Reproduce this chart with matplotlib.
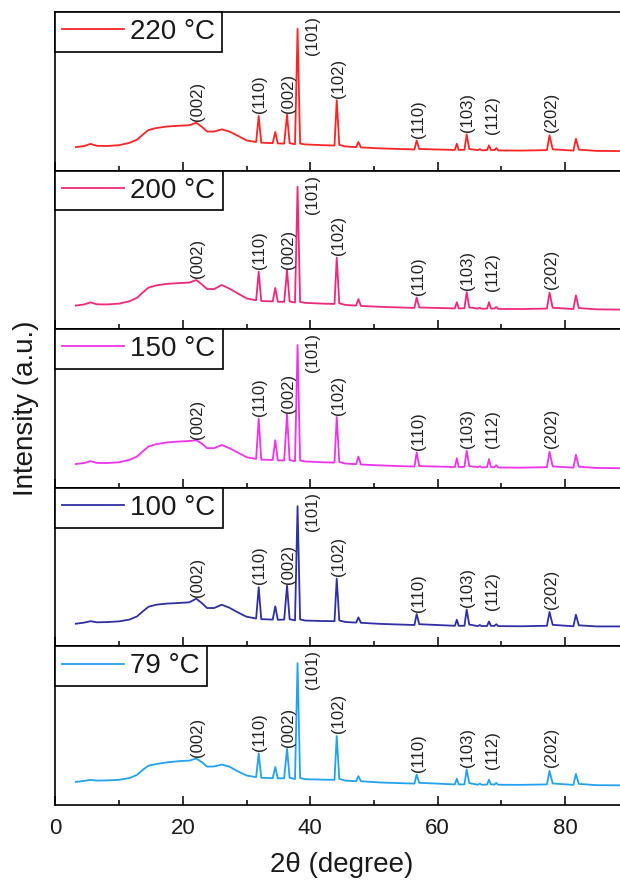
import numpy as np
import matplotlib
matplotlib.use('Agg')
import matplotlib.pyplot as plt
from matplotlib.ticker import MultipleLocator

plt.rcParams['font.family'] = ['Liberation Sans', 'DejaVu Sans']

# 2-theta sampling points (degree)
two_theta = [3.2, 4.5, 5.5, 6.5, 8.0, 10.0, 11.6, 12.8, 13.8, 14.6,
             15.8, 17.5, 19.5, 21.0, 22.1, 23.0, 23.8, 24.9, 26.1, 27.3,
             28.5, 30.0, 31.5, 31.9, 32.3, 34.1, 34.5, 34.9, 35.9, 36.35,
             36.75, 37.6, 38.0, 38.4, 39.2, 42.0, 43.8, 44.15, 44.55, 45.5,
             47.2, 47.55, 47.95, 51.0, 56.35, 56.7, 57.1, 62.7, 63.0, 63.3,
             64.2, 64.55, 64.95, 66.3, 66.6, 66.9, 67.75, 68.05, 68.35, 68.9,
             69.2, 69.5, 73.0, 77.15, 77.55, 78.05, 81.3, 81.7, 82.15, 85.0,
             90.0]

# intensities (a.u.), one list per sample
i_220 = [14.8, 15.5, 16.8, 15.6, 15.5, 16.0, 17.5, 19.5, 23.0, 25.6,
         26.8, 27.8, 28.3, 28.6, 30.2, 27.5, 24.6, 24.6, 26.0, 24.6,
         22.2, 19.0, 18.0, 34.5, 17.6, 17.3, 24.3, 17.1, 17.0, 35.3,
         17.3, 16.6, 89.4, 17.0, 16.5, 16.0, 15.8, 44.4, 16.2, 15.2,
         14.8, 18.0, 14.6, 14.0, 13.3, 19.0, 13.6, 13.0, 16.9, 13.0,
         13.1, 22.8, 13.6, 12.9, 13.5, 12.8, 12.9, 15.9, 13.0, 12.9,
         14.2, 12.7, 12.6, 12.9, 22.2, 13.4, 12.6, 20.1, 13.2, 12.4,
         12.3]
i_200 = [14.9, 15.6, 16.9, 15.7, 15.6, 16.1, 17.6, 19.8, 23.5, 26.2,
         27.6, 28.6, 29.1, 29.4, 31.0, 28.2, 25.3, 25.3, 27.9, 25.6,
         22.8, 19.4, 18.2, 36.2, 17.8, 17.5, 26.0, 17.3, 17.2, 37.2,
         17.5, 16.8, 89.8, 17.2, 16.6, 16.1, 15.9, 45.1, 16.3, 15.3,
         14.9, 19.0, 14.7, 14.1, 13.4, 20.0, 13.7, 13.1, 17.0, 13.1,
         13.2, 23.4, 13.7, 13.0, 13.5, 12.9, 13.0, 17.0, 13.1, 13.0,
         14.0, 12.8, 12.7, 13.0, 23.0, 13.5, 12.7, 21.3, 13.3, 12.5,
         12.3]
i_150 = [15.0, 15.6, 16.8, 15.7, 15.6, 16.1, 17.6, 19.7, 23.3, 26.0,
         27.5, 28.6, 29.2, 29.5, 30.0, 27.8, 25.0, 25.0, 27.0, 25.0,
         22.5, 19.3, 18.2, 43.7, 17.8, 17.5, 30.0, 17.3, 17.2, 46.3,
         17.5, 16.8, 90.0, 17.2, 16.6, 16.1, 15.9, 44.6, 16.3, 15.3,
         14.9, 19.7, 14.7, 14.1, 13.4, 22.3, 13.7, 13.1, 18.7, 13.1,
         13.2, 23.4, 13.7, 13.0, 13.6, 12.9, 13.0, 18.0, 13.1, 13.0,
         14.2, 12.8, 12.7, 13.0, 22.7, 13.5, 12.7, 20.8, 13.3, 12.5,
         12.3]
i_100 = [14.3, 15.0, 15.9, 15.2, 15.3, 15.8, 16.9, 18.9, 22.4, 25.0,
         26.3, 27.0, 27.4, 27.8, 30.1, 27.2, 24.2, 24.2, 26.3, 24.4,
         21.7, 18.7, 17.6, 37.3, 17.2, 16.9, 25.3, 16.8, 16.9, 38.3,
         17.2, 16.4, 88.4, 17.0, 16.3, 16.0, 15.9, 42.7, 16.4, 15.4,
         15.0, 18.3, 14.9, 14.2, 13.5, 20.4, 14.0, 13.0, 16.8, 13.0,
         13.0, 23.2, 13.8, 12.8, 13.5, 12.8, 12.9, 15.7, 13.0, 12.9,
         14.0, 12.8, 12.7, 13.0, 21.7, 13.6, 12.7, 20.0, 13.3, 12.6,
         12.6]
i_79 = [14.6, 15.2, 15.9, 15.4, 15.5, 15.9, 17.0, 19.0, 22.5, 24.8,
        25.8, 26.9, 27.7, 28.0, 29.3, 27.0, 24.2, 24.3, 25.5, 24.2,
        21.5, 18.6, 17.6, 32.5, 17.2, 16.9, 24.0, 16.8, 16.9, 35.6,
        17.2, 16.4, 89.4, 17.0, 16.3, 16.0, 15.9, 43.5, 16.5, 15.4,
        15.0, 18.2, 15.0, 14.2, 13.5, 19.2, 14.0, 13.0, 16.6, 13.0,
        13.0, 22.5, 13.8, 12.8, 13.5, 12.8, 12.9, 16.0, 13.0, 12.9,
        13.9, 12.8, 12.7, 13.0, 21.5, 13.6, 12.7, 19.6, 13.3, 12.5,
        12.4]

samples = ['220 °C', '200 °C', '150 °C', '100 °C', '79 °C']
intensities = [i_220, i_200, i_150, i_100, i_79]
colors = ['#ff2424', '#f0287c', '#ee33ec', '#2f2fa6', '#22a2f0']

peak_labels = ['(002)', '(110)', '(002)', '(101)', '(102)', '(110)', '(103)', '(112)', '(202)']
peak_pos = [22.1, 31.9, 36.35, 38.0, 44.15, 56.7, 64.55, 68.05, 77.55]

# label placement styling
label_dx = [0.25, 0.15, 0.15, 2.4, 0.35, 0.3, 0.05, 0.5, 0.25]
label_gap = [1.0, 1.8, 1.0, None, 1.6, 1.6, 1.5, 7.0, 2.2]

x_ticks = [0, 20, 40, 60, 80]

fig = plt.figure(figsize=(6.2, 8.8), dpi=100)
gs = fig.add_gridspec(5, 1, left=0.0895, right=1.0142, top=0.9864,
                      bottom=0.0852, hspace=0)

txt_col = '#1a1a1a'
axes = []
for k in range(5):
    ax = fig.add_subplot(gs[k])
    axes.append(ax)
    x = np.array(two_theta)
    y = np.array(intensities[k])
    ax.plot(x, y, color=colors[k], lw=1.3, label=samples[k])
    ax.set_xlim(0, 90)
    ax.set_ylim(0, 100)
    for lab, pos, dx, gap in zip(peak_labels, peak_pos, label_dx, label_gap):
        tip = np.interp(pos, x, y)
        if gap is None:
            ax.text(pos + dx, 97.5, lab, rotation=90, ha='center', va='top',
                    fontsize=12, color='#222222')
        else:
            ax.text(pos + dx, tip + gap, lab, rotation=90, ha='center',
                    va='bottom', fontsize=12, color='#222222')
    ax.xaxis.set_major_locator(MultipleLocator(20))
    ax.xaxis.set_minor_locator(MultipleLocator(10))
    ax.tick_params(axis='x', which='major', direction='in', length=6.5,
                   width=1.1, top=False, bottom=True, labelsize=16,
                   pad=9, labelcolor=txt_col)
    ax.tick_params(axis='x', which='minor', direction='in', length=3.5,
                   width=1.1, top=False, bottom=True)
    ax.tick_params(axis='y', left=False, labelleft=False)
    if k < 4:
        ax.tick_params(axis='x', which='both', labelbottom=False)
    for sp in ax.spines.values():
        sp.set_linewidth(1.2)
    leg = ax.legend(loc='upper left', borderaxespad=0, fancybox=False,
                    edgecolor='black', framealpha=1, fontsize=20,
                    handlelength=2.2, handletextpad=0.25, borderpad=0.25)
    leg.get_frame().set_linewidth(1.2)
    for t in leg.get_texts():
        t.set_color(txt_col)

axes[-1].set_xticks(x_ticks)
axes[-1].set_xlabel('2θ (degree)', fontsize=20, labelpad=10, color=txt_col)
fig.text(0.042, 0.536, 'Intensity (a.u.)', rotation=90, ha='center',
         va='center', fontsize=20, color=txt_col)

fig.savefig('out.png', dpi=100)
